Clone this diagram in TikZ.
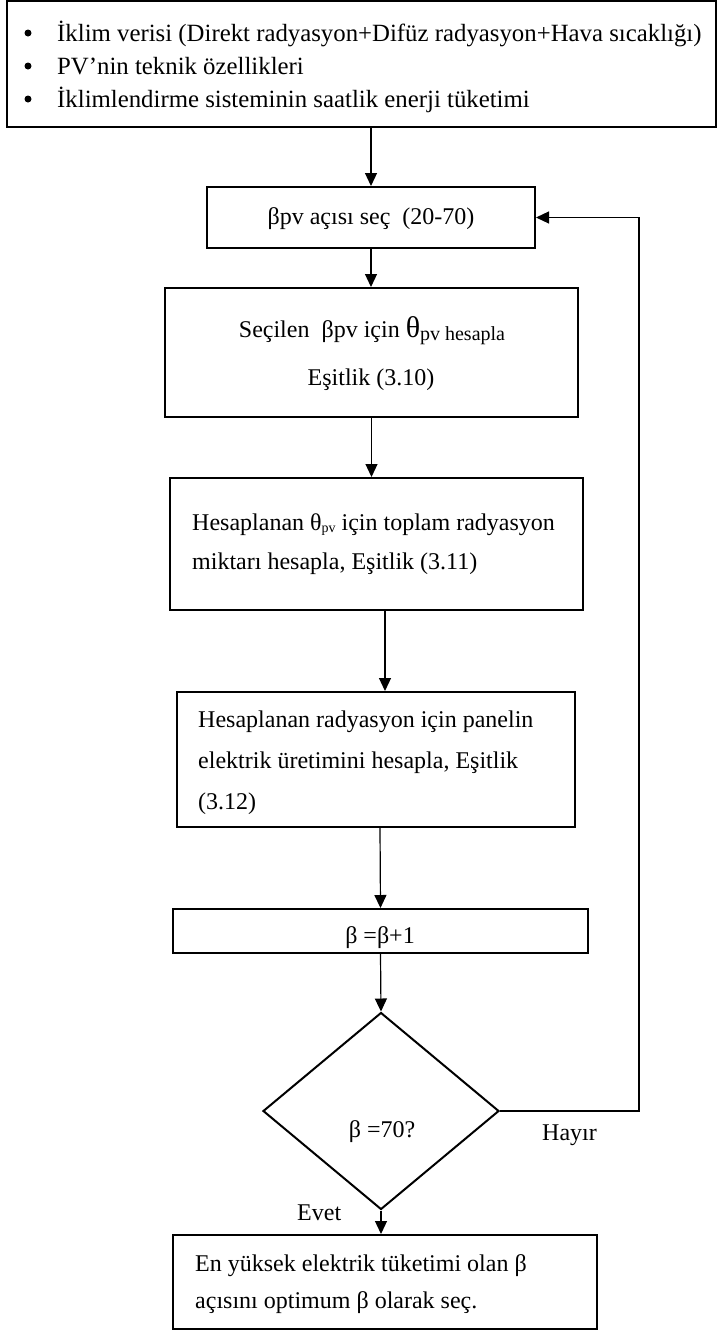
\documentclass[tikz,border=0pt]{standalone}
\usepackage{fontspec}
\setmainfont{Liberation Serif}
\usetikzlibrary{arrows.meta,shapes.geometric}
\newcommand\fsz{\fontsize{24}{28}\selectfont}
\newcommand\fszt{\fontsize{24.8}{28}\selectfont}
\tikzset{
  box/.style={draw, line width=2pt, rectangle, inner sep=0pt},
  dbox/.style={draw, line width=2pt, diamond, inner sep=0pt},
  conn/.style={line width=1.2pt, -{Triangle[length=13pt,width=12pt]}},
  txt/.style={inner sep=0pt, font=\fsz},
  ttxt/.style={inner sep=0pt, font=\fszt},
  bul/.style={circle, fill, inner sep=0pt, minimum size=7pt},
}
\begin{document}
\begin{tikzpicture}[x=1pt,y=-1pt]
\useasboundingbox (0,0) rectangle (718,1331);
\fill[white] (0,0) rectangle (718,1331);

% boxes
\node[box, minimum width=709pt, minimum height=126pt] (b1) at (361.5,64) {};
\node[box, minimum width=328pt, minimum height=61pt] (b2) at (371,217.5) {};
\node[box, minimum width=413pt, minimum height=129pt] (b3) at (371.5,352.5) {};
\node[box, minimum width=413pt, minimum height=132pt] (b4) at (376.5,544) {};
\node[box, minimum width=398pt, minimum height=135pt] (b5) at (376,759.5) {};
\node[box, minimum width=415pt, minimum height=44pt] (b6) at (380.5,931) {};
\node[dbox, minimum width=236pt, minimum height=197pt] (d) at (381,1111) {};
\node[box, minimum width=424pt, minimum height=94pt] (b7) at (385,1282) {};

% top box text
\node[bul] (bu1) at (28,33) {};
\node[bul] (bu2) at (28,66) {};
\node[bul] (bu3) at (28,99) {};
\node[ttxt, anchor=base west] (t11) at (57,41) {İklim verisi (Direkt radyasyon+Difüz radyasyon+Hava sıcaklığı)};
\node[ttxt, anchor=base west] (t12) at (57,74) {PV’nin teknik özellikleri};
\node[ttxt, anchor=base west] (t13) at (57,107) {İklimlendirme sisteminin saatlik enerji tüketimi};

% box 2
\node[txt, anchor=base] (t2) at (371,224) {βpv açısı seç\hspace{0.5em}(20-70)};

% box 3
\node[txt, anchor=base] (t31) at (372,337) {Seçilen\hspace{0.5em}βpv için {\fontsize{30}{30}\selectfont θ}\raisebox{-3pt}{\fontsize{20}{20}\selectfont pv hesapla}};
\node[txt, anchor=base] (t32) at (371,385) {Eşitlik (3.10)};

% box 4
\node[txt, anchor=base west] (t41) at (192,530) {Hesaplanan θ\raisebox{-2pt}{\fontsize{14}{14}\selectfont pv} için toplam radyasyon};
\node[txt, anchor=base west] (t42) at (192,569) {miktarı hesapla, Eşitlik (3.11)};

% box 5
\node[txt, anchor=base west] (t51) at (198,727) {Hesaplanan radyasyon için panelin};
\node[txt, anchor=base west] (t52) at (198,768) {elektrik üretimini hesapla, Eşitlik};
\node[txt, anchor=base west] (t53) at (198,809) {(3.12)};

% box 6
\node[txt, anchor=base] (t6) at (380,943) {β =β+1};

% diamond
\node[txt, anchor=base] (td) at (382,1137) {β =70?};

% labels
\node[txt, anchor=base west] (hay) at (542,1140) {Hayır};
\node[txt, anchor=base west] (evt) at (297,1220) {Evet};

% box 7
\node[txt, anchor=base west] (t71) at (195,1271) {En yüksek elektrik tüketimi olan β};
\node[txt, anchor=base west] (t72) at (195,1308) {açısını optimum β olarak seç.};

% connectors
\draw[conn] (b2.north |- b1.south) -- (b2.north);
\draw[conn] (b2.south) -- (b2.south |- b3.north);
\draw[conn] (b3.south) -- (b3.south |- b4.north);
\draw[conn] ([xshift=8.5pt]b4.south) -- ([xshift=8.5pt]b4.south |- b5.north);
\draw[conn] ([xshift=4pt]b5.south) -- (b6.north);
\draw[conn] (b6.south) -- (d.north);
\draw[conn] (d.south) -- (d.south |- b7.north);
\draw[conn] (d.east) -- ++(139,0) |- (b2.east);
\end{tikzpicture}
\end{document}
